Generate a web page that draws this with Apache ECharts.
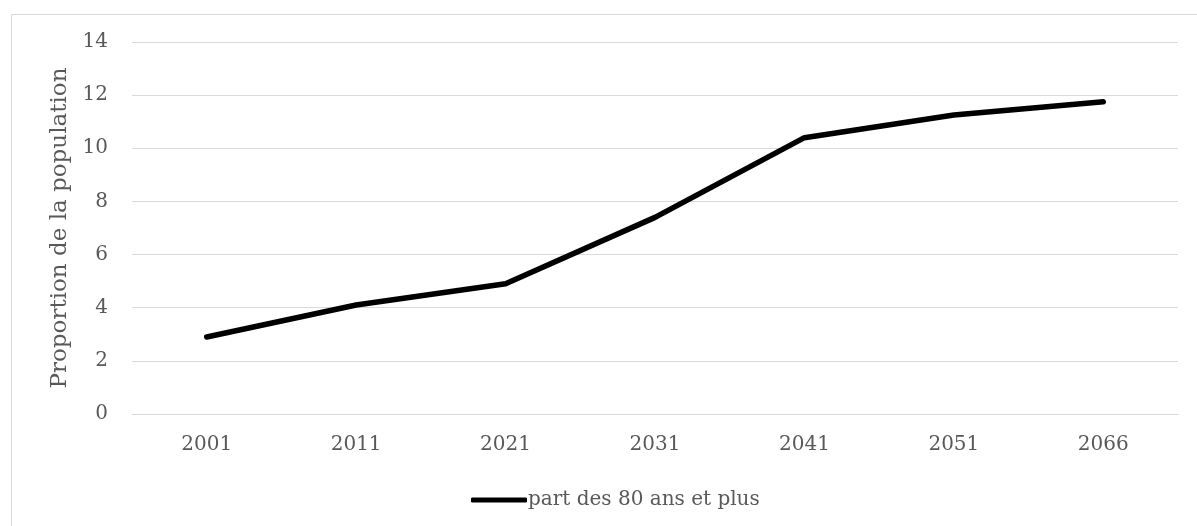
<!DOCTYPE html>
<html>
<head>
<meta charset="utf-8">
<script src="https://cdn.jsdelivr.net/npm/echarts@6/dist/echarts.min.js"></script>
<style>html,body{margin:0;padding:0;background:#fff;}#c{width:1197px;height:526px;}</style>
</head>
<body>
<div id="c"></div>
<script>
const categories = ['2001', '2011', '2021', '2031', '2041', '2051', '2066'];
const values = [2.9, 4.1, 4.9, 7.4, 10.4, 11.25, 11.75];
const seriesName = 'part des 80 ans et plus';
const yAxisName = 'Proportion de la population';

const font = 'DejaVu Serif';
const chart = echarts.init(document.getElementById('c'), null, {renderer: 'canvas'});
chart.setOption({
  animation: false,
  backgroundColor: '#fff',
  graphic: [{
    type: 'rect', left: 9, top: 12, silent: true, z: -1,
    shape: {x: 0.5, y: 0.5, width: 1300, height: 700},
    style: {fill: 'none', stroke: '#d9d9d9', lineWidth: 1}
  }],
  grid: {left: 132, right: 19, top: 42, bottom: 112, containLabel: false},
  legend: {
    left: 466, top: 485,
    itemWidth: 56, itemHeight: 5, itemGap: 10,
    icon: 'roundRect',
    textStyle: {fontFamily: font, fontSize: 20, color: '#595959', padding: [0, 0, 0, -4]},
    data: [{name: seriesName, itemStyle: {color: '#000'}}]
  },
  xAxis: {
    type: 'category', data: categories, boundaryGap: true,
    axisLine: {show: true, lineStyle: {color: '#d9d9d9', width: 1}},
    axisTick: {show: false},
    axisLabel: {fontFamily: font, fontSize: 20, color: '#595959', margin: 21}
  },
  yAxis: {
    type: 'value', min: 0, max: 14, interval: 2,
    name: yAxisName, nameLocation: 'middle', nameGap: 58, nameRotate: 90,
    nameTextStyle: {fontFamily: font, fontSize: 23, color: '#595959'},
    axisLine: {show: false}, axisTick: {show: false},
    splitLine: {lineStyle: {color: '#d9d9d9', width: 1}},
    axisLabel: {fontFamily: font, fontSize: 20, color: '#595959', margin: 24}
  },
  series: [{
    name: seriesName, type: 'line', data: values,
    showSymbol: false, symbol: 'none',
    lineStyle: {color: '#000', width: 5.5, cap: 'round', join: 'round'},
    itemStyle: {color: '#000'}
  }]
});
</script>
</body>
</html>
